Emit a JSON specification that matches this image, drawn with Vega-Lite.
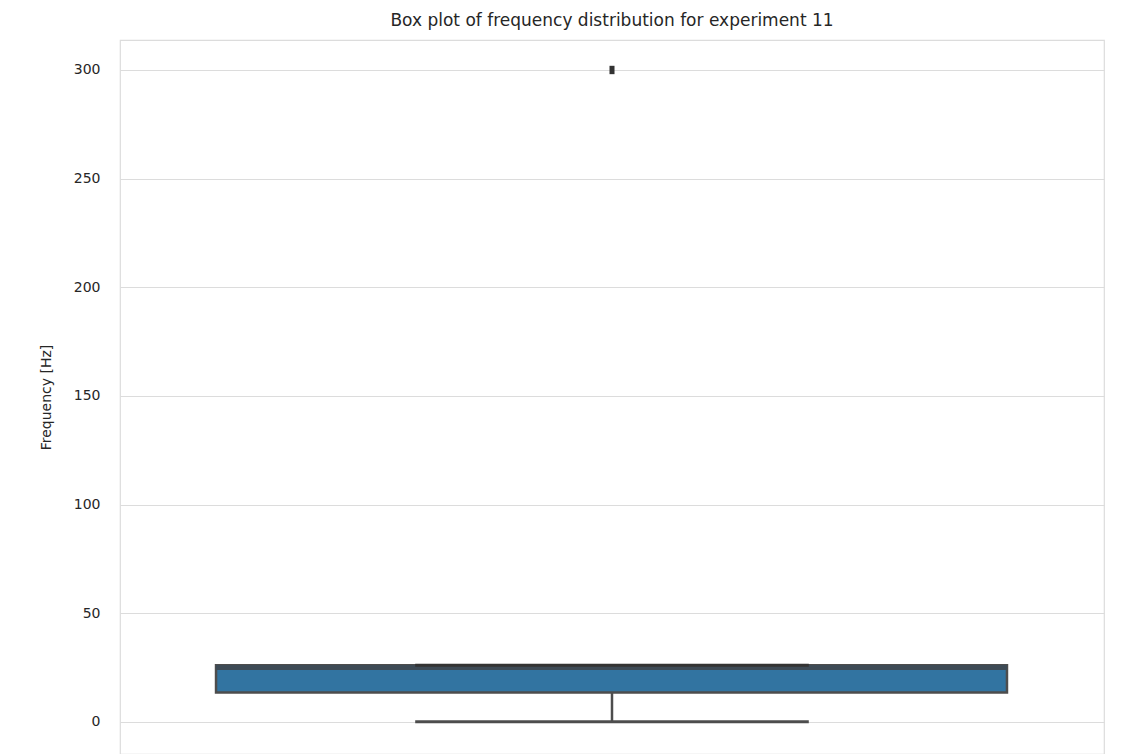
{
  "$schema": "https://vega.github.io/schema/vega-lite/v6.json",
  "autosize": "none",
  "width": 984,
  "height": 714,
  "padding": {"left": 120, "top": 40, "right": 26, "bottom": 0},
  "background": "white",
  "title": {"text": "Box plot of frequency distribution for experiment 11", "fontSize": 17, "font": "DejaVu Sans", "fontWeight": "normal", "color": "#262626", "offset": 10},
  "data": {"values": [{"q1": 13.5, "q3": 26, "median": 25, "lo": 0, "hi": 26, "outlier": 300}]},
  "encoding": {},
  "layer": [
    {
      "mark": {"type": "rule", "color": "#4d4d4d", "strokeWidth": 2.5},
      "encoding": {
        "x": {"datum": 0.5, "type": "quantitative", "scale": {"domain": [0, 1]}, "axis": null},
        "y": {"field": "lo", "type": "quantitative", "scale": {"domain": [-14.8, 313.8], "nice": false, "zero": false}, "title": "Frequency [Hz]", "axis": {"values": [0, 50, 100, 150, 200, 250, 300], "domain": false, "ticks": false, "labelPadding": 20, "labelFontSize": 14, "labelFont": "DejaVu Sans", "labelColor": "#262626", "titleFont": "DejaVu Sans", "titleFontSize": 14, "titleFontWeight": "normal", "titleColor": "#262626", "titlePadding": 20, "gridColor": "#dcdcdc", "gridWidth": 1.2}},
        "y2": {"field": "q1"}
      }
    },
    {
      "mark": {"type": "rule", "color": "#4d4d4d", "strokeWidth": 3},
      "encoding": {"x": {"datum": 0.3, "type": "quantitative"}, "x2": {"datum": 0.7}, "y": {"field": "lo", "type": "quantitative"}}
    },
    {
      "mark": {"type": "rect", "fill": "#3274a1", "stroke": "#4d4d4d", "strokeWidth": 2.5},
      "encoding": {"x": {"datum": 0.0976, "type": "quantitative"}, "x2": {"datum": 0.9014}, "y": {"field": "q1", "type": "quantitative"}, "y2": {"field": "q3"}}
    },
    {
      "mark": {"type": "rule", "color": "#3d4a55", "strokeWidth": 5},
      "encoding": {"x": {"datum": 0.0976, "type": "quantitative"}, "x2": {"datum": 0.9014}, "y": {"field": "median", "type": "quantitative"}}
    },
    {
      "mark": {"type": "rule", "color": "#333333", "strokeWidth": 3},
      "encoding": {"x": {"datum": 0.3, "type": "quantitative"}, "x2": {"datum": 0.7}, "y": {"field": "hi", "type": "quantitative"}}
    },
    {
      "mark": {"type": "point", "shape": "M-0.6,-1L0.6,-1L0.6,1L-0.6,1Z", "filled": true, "color": "#333333", "opacity": 1, "size": 70},
      "encoding": {"x": {"datum": 0.5, "type": "quantitative"}, "y": {"field": "outlier", "type": "quantitative"}}
    }
  ],
  "config": {"view": {"stroke": "#dcdcdc", "strokeWidth": 1.2}, "axis": {"grid": true}}
}
